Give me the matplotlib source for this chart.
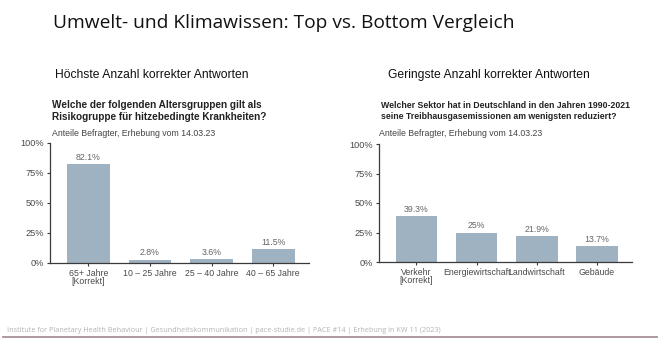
import matplotlib
matplotlib.use("Agg")
import matplotlib.pyplot as plt
from matplotlib.lines import Line2D

# Survey results (share of respondents, %)
age_groups = ["65+ Jahre\n[Korrekt]", "10 – 25 Jahre", "25 – 40 Jahre", "40 – 65 Jahre"]
age_values = [82.1, 2.8, 3.6, 11.5]

sectors = ["Verkehr\n[Korrekt]", "Energiewirtschaft", "Landwirtschaft", "Gebäude"]
sector_values = [39.3, 25, 21.9, 13.7]

y_ticks = [0, 25, 50, 75, 100]
y_tick_labels = ["0%", "25%", "50%", "75%", "100%"]

W, H = 661, 348
BAR = "#9fb2c1"
AXIS = "#3a3a3a"

fig = plt.figure(figsize=(W / 100, H / 100), dpi=100)
fig.patch.set_facecolor("white")


def px(x, y):
    return x / W, 1 - y / H


def add_panel(x0, x1, ytop, ybot, cats, vals):
    l, b = px(x0, ybot)
    ax = fig.add_axes([l, b, (x1 - x0) / W, (ybot - ytop) / H])
    pos = range(len(cats))
    ax.bar(pos, vals, width=0.69, color=BAR, zorder=2)
    for p, v in zip(pos, vals):
        ax.text(p, v + 1.8, f"{v:g}%", ha="center", va="bottom",
                fontsize=6.3, color="#666666", family="Liberation Sans")
    ax.set_xlim(-0.62, len(cats) - 0.42)
    ax.set_ylim(0, 100)
    ax.set_yticks(y_ticks)
    ax.set_yticklabels(y_tick_labels)
    ax.set_xticks(list(pos))
    ax.set_xticklabels(cats, linespacing=0.95)
    for s in ("top", "right"):
        ax.spines[s].set_visible(False)
    for s in ("left", "bottom"):
        ax.spines[s].set_color(AXIS)
        ax.spines[s].set_linewidth(0.9)
    ax.tick_params(axis="both", colors=AXIS, length=2.5, width=0.8,
                   labelsize=6.6, pad=1.5)
    ax.tick_params(axis="x", labelsize=6.3)
    for t in ax.get_xticklabels() + ax.get_yticklabels():
        t.set_color("#4a4a4a")
        t.set_family("Liberation Sans")
    ax.set_facecolor("white")
    return ax


add_panel(50, 309, 143, 263, age_groups, age_values)
add_panel(379, 632, 144, 262, sectors, sector_values)

# Headline
fig.text(*px(53, 23), "Umwelt- und Klimawissen: Top vs. Bottom Vergleich",
         fontsize=13.8, family="Open Sans", color="#111111", va="center", ha="left")

# Column headings
fig.text(*px(55, 75), "Höchste Anzahl korrekter Antworten", fontsize=8.75,
         family="Liberation Sans", color="#111111", va="center")
fig.text(*px(388, 75), "Geringste Anzahl korrekter Antworten", fontsize=8.75,
         family="Liberation Sans", color="#111111", va="center")

# Question titles and captions
fig.text(*px(52, 111), "Welche der folgenden Altersgruppen gilt als\nRisikogruppe für hitzebedingte Krankheiten?",
         fontsize=7.2, family="Liberation Sans", weight="bold", color="#222222",
         va="center", linespacing=1.15)
fig.text(*px(52, 133), "Anteile Befragter, Erhebung vom 14.03.23", fontsize=6.3,
         family="Liberation Sans", color="#444444", va="center")

fig.text(*px(381, 111), "Welcher Sektor hat in Deutschland in den Jahren 1990-2021\nseine Treibhausgasemissionen am wenigsten reduziert?",
         fontsize=6.35, family="Liberation Sans", weight="bold", color="#222222",
         va="center", linespacing=1.3)
fig.text(*px(379, 133), "Anteile Befragter, Erhebung vom 14.03.23", fontsize=6.3,
         family="Liberation Sans", color="#444444", va="center")

# Footer
fig.text(*px(7, 330), "Institute for Planetary Health Behaviour | Gesundheitskommunikation | pace-studie.de | PACE #14 | Erhebung in KW 11 (2023)",
         fontsize=5.2, family="Open Sans", color="#b3b3b3", va="center")
x0, y0 = px(3, 336.5)
x1, _ = px(657, 336.5)
fig.add_artist(Line2D([x0, x1], [y0, y0], color="#a88f96", linewidth=1.3,
                      transform=fig.transFigure))

fig.savefig("out.png", dpi=100, facecolor="white")
